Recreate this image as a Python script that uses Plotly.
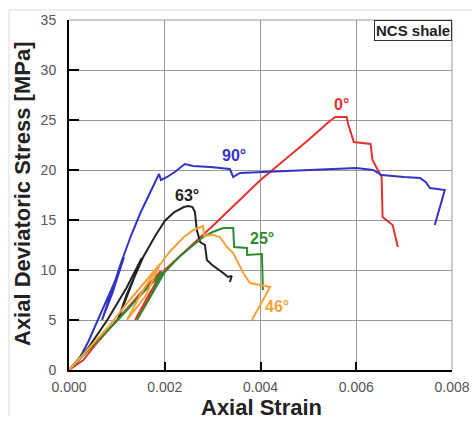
import plotly.graph_objects as go

# ---- data (strain [-], stress [MPa]) ----
red_strain = [0, 0.0003, 0.0006, 0.001, 0.0015, 0.00192, 0.0017, 0.00152, 0.00138, 0.0017, 0.002,
              0.0025, 0.0028, 0.003, 0.0035, 0.004, 0.0045, 0.005, 0.0054, 0.00556, 0.0058,
              0.00583, 0.00595, 0.0063, 0.00634, 0.00653, 0.00655, 0.00676, 0.00687]
red_stress = [0, 1.0, 2.8, 5.0, 7.7, 9.9, 7.6, 6.0, 5.0, 7.8, 10.0,
              12.2, 13.5, 14.4, 16.7, 19.0, 21.0, 23.0, 24.7, 25.3, 25.3,
              24.6, 22.8, 22.6, 21.0, 19.3, 15.3, 14.5, 12.3]

blue_strain = [0, 0.0002, 0.0004, 0.0006, 0.0008, 0.001, 0.00115, 0.0009, 0.00069, 0.0009, 0.0011,
               0.0013, 0.0015, 0.0017, 0.00188, 0.00192, 0.00205, 0.00221, 0.00242, 0.00259,
               0.00295, 0.00336, 0.00343, 0.00357, 0.004, 0.0045, 0.005, 0.0055, 0.006, 0.00635,
               0.00653, 0.007, 0.00733, 0.00745, 0.00754, 0.00785, 0.00764]
blue_stress = [0, 1.0, 2.8, 5.0, 7.1, 9.3, 11.3, 7.6, 5.0, 8.0, 10.9,
               13.5, 15.8, 17.8, 19.6, 19.0, 19.3, 19.8, 20.6, 20.4,
               20.3, 20.1, 19.3, 19.7, 19.8, 19.9, 20.0, 20.1, 20.2, 20.0,
               19.5, 19.3, 19.2, 18.8, 18.2, 18.0, 14.5]

black_strain = [0, 0.0004, 0.0008, 0.0012, 0.00152, 0.0013, 0.00102, 0.0012, 0.0014, 0.00155,
                0.0018, 0.002, 0.0022, 0.0024, 0.00249, 0.00258, 0.00263, 0.00267, 0.00274,
                0.00284, 0.00288, 0.00299, 0.00322, 0.00332, 0.0034, 0.00336]
black_stress = [0, 2.2, 5.0, 8.2, 11.2, 8.4, 5.0, 7.5, 9.7, 11.3,
                13.4, 14.9, 15.8, 16.3, 16.4, 16.3, 15.8, 14.0, 12.8,
                12.5, 11.0, 10.5, 9.7, 9.3, 9.4, 8.8]

orange_strain = [0, 0.0004, 0.0008, 0.0012, 0.0016, 0.0019, 0.0016, 0.00121, 0.0015, 0.0018,
                 0.0021, 0.0024, 0.0026, 0.0028, 0.00282, 0.003, 0.00315, 0.0033, 0.00343,
                 0.00353, 0.00364, 0.00378, 0.00403, 0.0042, 0.00382]
orange_stress = [0, 2.1, 4.2, 6.6, 8.9, 10.6, 7.4, 5.0, 7.6, 9.9,
                 11.8, 13.3, 14.0, 14.4, 13.4, 13.5, 13.3, 12.3, 11.7,
                 10.7, 9.7, 8.7, 8.5, 8.3, 5.0]

green_strain = [0, 0.0005, 0.001, 0.0015, 0.00195, 0.0017, 0.00142, 0.0017, 0.002, 0.0023,
                0.0026, 0.0028, 0.003, 0.00322, 0.00343, 0.00345, 0.00372, 0.00372, 0.00403,
                0.00405]
green_stress = [0, 2.4, 4.9, 7.5, 9.8, 7.3, 5.0, 7.4, 9.8, 11.3,
                12.5, 13.3, 13.8, 14.2, 14.2, 12.3, 12.2, 11.5, 11.6,
                8.0]

series_names = ["0°", "90°", "63°", "25°", "46°"]
series_colors = ["#e5322d", "#3434c4", "#222222", "#2e8a2e", "#f5a23a"]
label_strain = [0.0057, 0.00345, 0.00246, 0.00403, 0.00434]
label_stress = [26.6, 21.5, 17.5, 13.2, 6.4]

x_ticks = [0, 0.002, 0.004, 0.006, 0.008]
x_ticktext = ["0.000", "0.002", "0.004", "0.006", "0.008"]
y_ticks = [0, 5, 10, 15, 20, 25, 30, 35]

all_x = [red_strain, blue_strain, black_strain, green_strain, orange_strain]
all_y = [red_stress, blue_stress, black_stress, green_stress, orange_stress]
trace_colors = ["#e5322d", "#3434c4", "#222222", "#2e8a2e", "#f5a23a"]

FONT = "Liberation Sans, Arial"
L, R, T, B = 69, 20, 20, 52
W, H = 472, 422
PW, PH = W - L - R, H - T - B


def px_x(p):
    return (p - L) / PW


def px_y(p):
    return 1 - (p - T) / PH


fig = go.Figure()
for xs, ys, cl in zip(all_x, all_y, trace_colors):
    fig.add_trace(go.Scatter(x=xs, y=ys, mode="lines",
                             line=dict(color=cl, width=2), showlegend=False))

for nm, cl, lx, ly in zip(series_names, series_colors, label_strain, label_stress):
    fig.add_annotation(x=lx, y=ly, text="<b>%s</b>" % nm, showarrow=False,
                       xanchor="center", yanchor="middle",
                       font=dict(size=16, color=cl, family=FONT))

fig.add_annotation(xref="paper", yref="paper", x=1.0, y=1.0, xanchor="right", yanchor="top",
                   text="<b>NCS shale</b>", showarrow=False, bgcolor="white",
                   bordercolor="#333333", borderwidth=1, borderpad=1,
                   font=dict(size=15, color="#222222", family=FONT))

# axis titles
fig.add_annotation(xref="paper", yref="paper", x=px_x(261), y=px_y(407.5),
                   xanchor="center", yanchor="middle",
                   text="<b>Axial Strain</b>", showarrow=False,
                   font=dict(size=22, color="#222222", family=FONT))
fig.add_annotation(xref="paper", yref="paper", x=px_x(22), y=px_y(194), textangle=-90,
                   xanchor="center", yanchor="middle",
                   text="<b>Axial Deviatoric Stress [MPa]</b>", showarrow=False,
                   font=dict(size=22, color="#222222", family=FONT))

# faint frame lines of the original picture
fig.add_shape(type="line", xref="paper", yref="paper", x0=px_x(9), x1=px_x(9),
              y0=px_y(10), y1=px_y(416), line=dict(color="#dddddd", width=1))
fig.add_shape(type="line", xref="paper", yref="paper", x0=px_x(9), x1=px_x(472),
              y0=px_y(10), y1=px_y(10), line=dict(color="#dddddd", width=1))
# top and right plot border (grey)
fig.add_shape(type="line", xref="paper", yref="paper", x0=0, x1=1, y0=1, y1=1,
              line=dict(color="#999999", width=1))
fig.add_shape(type="line", xref="paper", yref="paper", x0=1, x1=1, y0=0, y1=1,
              line=dict(color="#999999", width=1))

fig.update_xaxes(range=[0, 0.008], tickvals=x_ticks, ticktext=x_ticktext,
                 showline=True, linecolor="black", linewidth=2,
                 ticks="inside", ticklen=8, tickwidth=2, tickcolor="black",
                 showgrid=True, gridcolor="#999999", gridwidth=1, zeroline=False,
                 automargin=False, ticklabelstandoff=3,
                 tickfont=dict(size=14, color="#555555", family=FONT))
fig.update_yaxes(range=[0, 35], tickvals=y_ticks,
                 showline=True, linecolor="black", linewidth=2,
                 ticks="inside", ticklen=10, tickwidth=2, tickcolor="black",
                 showgrid=True, gridcolor="#999999", gridwidth=1, zeroline=False,
                 ticklabelstandoff=8, automargin=False,
                 tickfont=dict(size=14, color="#555555", family=FONT))

fig.update_layout(width=W, height=H, margin=dict(l=L, r=R, t=T, b=B),
                  plot_bgcolor="white", paper_bgcolor="white",
                  font=dict(family=FONT))

fig.write_html("out.html")
